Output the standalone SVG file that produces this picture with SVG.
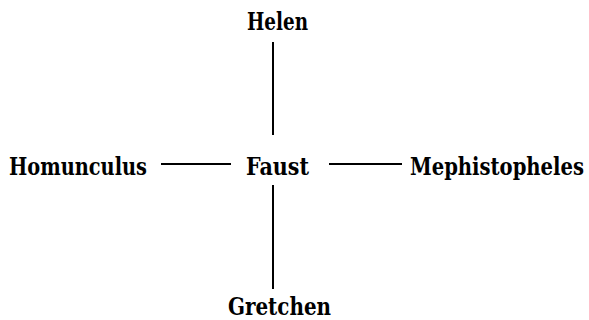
<svg xmlns="http://www.w3.org/2000/svg" width="589" height="320" viewBox="0 0 589 320">
<style>
text{font-family:"DejaVu Serif","Liberation Serif",serif;font-weight:bold;font-size:25px;fill:#000}
.e{stroke:#000;stroke-width:2;fill:none}
</style>
<rect width="589" height="320" fill="#fff"/>
<g id="edges">
<line class="e" x1="273" y1="42" x2="273" y2="135"/>
<line class="e" x1="273" y1="185" x2="273" y2="289"/>
<line class="e" x1="161" y1="164" x2="231" y2="164"/>
<line class="e" x1="329" y1="164" x2="402" y2="164"/>
</g>
<g id="helen"><text x="247" y="30" textLength="61" lengthAdjust="spacingAndGlyphs">Helen</text></g>
<g id="homunculus"><text x="9" y="175" textLength="138" lengthAdjust="spacingAndGlyphs">Homunculus</text></g>
<g id="faust"><text x="246" y="175" textLength="63" lengthAdjust="spacingAndGlyphs">Faust</text></g>
<g id="mephistopheles"><text x="410" y="175" textLength="174" lengthAdjust="spacingAndGlyphs">Mephistopheles</text></g>
<g id="gretchen"><text x="228" y="315" textLength="103" lengthAdjust="spacingAndGlyphs">Gretchen</text></g>
</svg>
